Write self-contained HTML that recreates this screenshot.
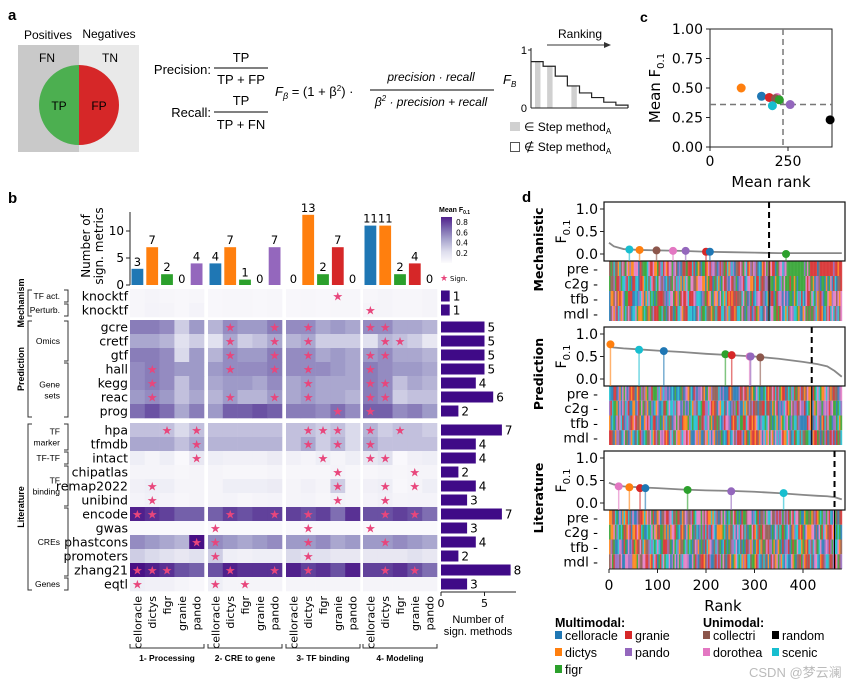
<!DOCTYPE html>
<html><head><meta charset="utf-8">
<style>
html,body{margin:0;padding:0;background:#fff;}
svg{display:block;font-family:"Liberation Sans","DejaVu Sans",sans-serif;}
.dv{font-family:"DejaVu Sans","Liberation Sans",sans-serif;}
</style></head>
<body>
<svg id="fig" width="866" height="686" viewBox="0 0 866 686" xmlns="http://www.w3.org/2000/svg">
<!-- Panel a -->
<g>
<text x="8" y="20" font-size="15" font-weight="bold">a</text>
<text x="48" y="39" font-size="12" text-anchor="middle">Positives</text>
<text x="109" y="38" font-size="12" text-anchor="middle">Negatives</text>
<rect x="18" y="45" width="61" height="107" fill="#c9c9c9"/>
<rect x="79" y="45" width="60" height="107" fill="#e9e9e9"/>
<text x="47" y="62" font-size="12" text-anchor="middle">FN</text>
<text x="110" y="62" font-size="12" text-anchor="middle">TN</text>
<path d="M79,65 A40,40 0 0,0 79,145 Z" fill="#4caf50"/>
<path d="M79,65 A40,40 0 0,1 79,145 Z" fill="#d62728"/>
<text x="59" y="110" font-size="12" text-anchor="middle">TP</text>
<text x="99" y="110" font-size="12" text-anchor="middle">FP</text>
<text x="211" y="74" font-size="13" text-anchor="end">Precision:</text>
<text x="241" y="62" font-size="13" text-anchor="middle">TP</text>
<line x1="214" y1="68" x2="268" y2="68" stroke="#000"/>
<text x="241" y="84" font-size="13" text-anchor="middle">TP + FP</text>
<text x="211" y="117" font-size="13" text-anchor="end">Recall:</text>
<text x="241" y="105" font-size="13" text-anchor="middle">TP</text>
<line x1="214" y1="112" x2="268" y2="112" stroke="#000"/>
<text x="241" y="129" font-size="13" text-anchor="middle">TP + FN</text>
<text x="275" y="96" font-size="13"><tspan font-style="italic">F</tspan><tspan font-size="9" dy="3" font-style="italic">β</tspan><tspan dy="-3"> = (1 + β</tspan><tspan font-size="8" dy="-5">2</tspan><tspan dy="5">) ·</tspan></text>
<text x="431" y="81" font-size="12" font-style="italic" text-anchor="middle">precision · recall</text>
<line x1="370" y1="90" x2="494" y2="90" stroke="#000"/>
<text x="431" y="106" font-size="12" font-style="italic" text-anchor="middle">β<tspan font-size="8" dy="-5">2</tspan><tspan dy="5"> · precision + recall</tspan></text>
<text x="503" y="84" font-size="13" font-style="italic">F<tspan font-size="8" dy="3">B</tspan></text>
<text x="580" y="38" font-size="12" text-anchor="middle">Ranking</text>
<line x1="547" y1="45" x2="607" y2="45" stroke="#333"/>
<path d="M611,45 L604,42 L604,48 Z" fill="#333"/>
<g id="stepchart"></g>
<rect x="510" y="122" width="10" height="9" fill="#d0d0d0"/>
<text x="524" y="131" font-size="12">∈ Step method<tspan font-size="8" dy="3">A</tspan></text>
<rect x="510.5" y="142.5" width="9" height="9" fill="#fff" stroke="#555"/>
<text x="524" y="151" font-size="12">∉ Step method<tspan font-size="8" dy="3">A</tspan></text>
</g>
<!-- Panel c -->
<g id="panelc" class="dv">
<text x="640" y="22" font-size="14" font-weight="bold" font-family="Liberation Sans">c</text>
</g>
<!-- Panel b -->
<g id="panelb">
<text x="8" y="203" font-size="15" font-weight="bold">b</text>
</g>
<!-- Panel d -->
<g id="paneld" class="dv">
<text x="522" y="202" font-size="15" font-weight="bold" font-family="Liberation Sans">d</text>
</g>
<g id="legend"></g>
<text x="749" y="677" font-size="13" fill="#bbb" font-family="Liberation Sans, Noto Sans CJK SC, sans-serif">CSDN @梦云澜</text>
</svg>
<script>
// ---------- data ----------
const methods = ["celloracle","dictys","figr","granie","pando","collectri","dorothea","random","scenic"];
const methodColors = {celloracle:"#1f77b4",dictys:"#ff7f0e",figr:"#2ca02c",granie:"#d62728",pando:"#9467bd",collectri:"#8c564b",dorothea:"#e377c2",random:"#000000",scenic:"#17becf"};
// panel a step chart
const stepValues = [0.8,0.72,0.55,0.38,0.26,0.18,0.1,0.05];
const stepShaded = [0,1,3];
// panel c
const cMethods = ["dictys","celloracle","granie","dorothea","collectri","figr","scenic","pando","random"];
const cRank = [100,165,190,215,210,222,200,257,385];
const cF = [0.50,0.43,0.42,0.42,0.41,0.40,0.35,0.36,0.23];
const cRefRank = 234, cRefF = 0.36;
const cYTicks = [0,0.25,0.5,0.75,1.0];
const cYLabels = ["0.00","0.25","0.50","0.75","1.00"];
const cXTicks = [0,250];
// panel b
const stepNames = ["1- Processing","2- CRE to gene","3- TF binding","4- Modeling"];
const colMethods = ["celloracle","dictys","figr","granie","pando"];
const topCounts = [3,7,2,0,4, 4,7,1,0,7, 0,13,2,7,0, 11,11,2,4,0];
const rowNames = ["knocktf","knocktf","gcre","cretf","gtf","hall","kegg","reac","prog","hpa","tfmdb","intact","chipatlas","remap2022","unibind","encode","gwas","phastcons","promoters","zhang21","eqtl"];
const rowCounts = [1,1,5,5,5,5,4,6,2,7,4,4,2,4,3,7,3,4,2,8,3];
const heat = [
[.04,.05,.04,.03,.04, .03,.04,.04,.03,.04, .03,.04,.03,.04,.04, .04,.05,.04,.04,.05],
[.04,.06,.05,.03,.06, .03,.04,.04,.03,.04, .03,.04,.03,.04,.04, .05,.05,.04,.04,.05],
[.6,.6,.55,.3,.5, .4,.55,.5,.5,.6, .55,.55,.45,.5,.45, .55,.55,.45,.45,.4],
[.45,.45,.4,.2,.3, .2,.45,.3,.35,.45, .4,.45,.3,.3,.3, .2,.4,.35,.3,.15],
[.6,.6,.55,.25,.5, .4,.55,.5,.5,.6, .55,.55,.45,.5,.45, .5,.55,.45,.45,.4],
[.55,.6,.55,.5,.5, .5,.55,.55,.55,.6, .55,.55,.55,.5,.45, .6,.55,.5,.5,.45],
[.55,.6,.55,.35,.5, .45,.5,.5,.45,.55, .45,.5,.45,.45,.45, .6,.55,.35,.45,.4],
[.5,.55,.5,.35,.45, .4,.5,.4,.4,.5, .45,.5,.45,.45,.4, .6,.55,.3,.35,.35],
[.65,.75,.65,.45,.6, .5,.7,.7,.75,.7, .6,.6,.55,.65,.55, .7,.7,.55,.6,.5],
[.35,.35,.35,.25,.35, .35,.35,.35,.35,.35, .35,.35,.3,.35,.25, .4,.3,.35,.35,.3],
[.45,.45,.45,.35,.45, .4,.4,.4,.4,.4, .35,.45,.3,.4,.25, .45,.35,.35,.35,.35],
[.1,.05,.1,.02,.15, .1,.08,.08,.08,.12, .08,.05,.1,.05,.1, .15,.2,.02,.08,.1],
[.05,.05,.05,.04,.05, .05,.04,.04,.04,.05, .04,.04,.04,.06,.04, .04,.05,.04,.05,.05],
[.08,.1,.1,.05,.05, .05,.1,.1,.1,.12, .05,.08,.05,.3,.05, .08,.1,.03,.05,.1],
[.06,.08,.06,.04,.05, .05,.06,.04,.05,.06, .05,.06,.04,.07,.05, .06,.08,.05,.06,.06],
[.9,.85,.8,.7,.7, .7,.8,.75,.8,.8, .8,.75,.8,.65,.85, .75,.75,.8,.75,.65],
[.02,.02,.02,.02,.02, .02,.02,.02,.02,.02, .02,.02,.02,.02,.02, .02,.02,.02,.02,.02],
[.55,.5,.45,.4,.95, .55,.5,.45,.5,.55, .5,.5,.55,.45,.5, .5,.5,.55,.5,.45],
[.3,.25,.2,.15,.2, .3,.1,.08,.1,.1, .25,.2,.2,.15,.15, .15,.15,.15,.2,.15],
[.95,.9,.85,.75,.7, .75,.9,.85,.85,.85, .9,.8,.85,.75,.9, .8,.8,.85,.75,.65],
[.1,.08,.08,.05,.03, .1,.05,.05,.05,.05, .05,.05,.05,.05,.05, .05,.05,.05,.05,.05]];
const stars = [[13],[15],[6,9,11,15,16],[6,9,11,16,17],[6,9,11,15,16],[1,6,9,11,15],[1,11,15,16],[1,6,9,11,15,16],[13,15],
[2,4,11,12,13,15,17],[4,11,13,15],[4,12,15,16],[13,18],[1,13,16,18],[1,13,16],[0,1,6,9,11,16,18],[5,11,15],[4,5,11,16],[5,11],[0,1,2,6,9,11,16,18],[0,5,7]];
// panel d
const dPanels = ["Mechanistic","Prediction","Literature"];
const curveRanks = [0,10,30,60,100,150,200,250,300,350,400,430,450,465,480];
const curveMech = [0.25,0.17,0.11,0.09,0.08,0.07,0.05,0.04,0.03,0.02,0.02,0.02,0.02,0.02,0.02];
const curvePred = [0.72,0.70,0.68,0.66,0.63,0.6,0.56,0.53,0.5,0.45,0.38,0.33,0.28,0.18,0.05];
const curveLit = [0.45,0.41,0.37,0.35,0.33,0.3,0.28,0.27,0.25,0.22,0.18,0.16,0.15,0.13,0.08];
const lolMechM = ["scenic","dictys","collectri","dorothea","pando","granie","celloracle","figr"];
const lolMechR = [42,63,98,132,158,200,208,365];
const lolMechV = [0.1,0.09,0.08,0.07,0.07,0.05,0.05,0.0];
const lolPredM = ["dictys","scenic","celloracle","figr","granie","dorothea","pando","collectri"];
const lolPredR = [3,62,113,240,253,290,292,312];
const lolPredV = [0.77,0.65,0.62,0.55,0.53,0.50,0.50,0.48];
const lolLitM = ["dorothea","dictys","granie","celloracle","figr","pando","scenic"];
const lolLitR = [20,42,64,75,162,252,360];
const lolLitV = [0.37,0.35,0.33,0.33,0.29,0.26,0.22];
const cutoffs = [330,418,465];
const rankTicks = [0,100,200,300,400];
const stripRows = ["pre","c2g","tfb","mdl"];

// ---------- helpers ----------
const NS="http://www.w3.org/2000/svg";
function mk(parent,tag,attrs,text){const e=document.createElementNS(NS,tag);for(const k in attrs)e.setAttribute(k,attrs[k]);if(text!==undefined)e.textContent=text;parent.appendChild(e);return e;}
function purples(v){const stops=[[0,[252,251,253]],[0.25,[218,218,235]],[0.5,[158,154,200]],[0.75,[106,81,163]],[1,[63,0,125]]];
 v=Math.max(0,Math.min(1,v));for(let i=1;i<stops.length;i++){if(v<=stops[i][0]){const a=stops[i-1],b=stops[i],t=(v-a[0])/(b[0]-a[0]);return "rgb("+a[1].map((c,j)=>Math.round(c+(b[1][j]-c)*t)).join(",")+")";}}return "rgb(63,0,125)";}

// ---------- panel a step chart ----------
(function(){
 const g=document.getElementById('stepchart');
 const x0=531,x1=628,yS=v=>108-v*58;const w=(x1-x0)/stepValues.length;
 stepShaded.forEach(i=>{const r=mk(g,'rect',{x:x0+i*w+4,y:yS(stepValues[i]),width:w*0.45,height:108-yS(stepValues[i]),fill:'#d0d0d0'});
 });
 let d="M"+x0+","+yS(stepValues[0]);
 stepValues.forEach((v,i)=>{d+=" L"+(x0+i*w)+","+yS(v)+" L"+(x0+(i+1)*w)+","+yS(v);});
 d+=" L"+x1+",108";
 const p=mk(g,'path',{d:d,fill:'none',stroke:'#222','stroke-width':1.2});
 
 mk(g,'line',{x1:x0,y1:48,x2:x0,y2:108,stroke:'#222'});
 mk(g,'line',{x1:x0,y1:108,x2:x1,y2:108,stroke:'#222'});
 mk(g,'line',{x1:x0-3,y1:50,x2:x0,y2:50,stroke:'#222'});
 mk(g,'text',{x:x0-4,y:54,'font-size':11,'text-anchor':'end'},'1');
 mk(g,'text',{x:x0-4,y:112,'font-size':11,'text-anchor':'end'},'0');
})();

// ---------- panel c ----------
(function(){
 const g=document.getElementById('panelc');
 const X=r=>710+r*0.312, Y=v=>147-v*118;
 const ax=mk(g,'rect',{x:710,y:29,width:122,height:118,fill:'none',stroke:'#222','stroke-width':1});
 
 cYTicks.forEach((t,i)=>{mk(g,'line',{x1:706,y1:Y(t),x2:710,y2:Y(t),stroke:'#222'});
  const l=mk(g,'text',{x:703,y:Y(t)+5,'font-size':14,'text-anchor':'end'},cYLabels[i]);
  });
 cXTicks.forEach(t=>{mk(g,'line',{x1:X(t),y1:147,x2:X(t),y2:151,stroke:'#222'});
  const l=mk(g,'text',{x:X(t),y:166,'font-size':14,'text-anchor':'middle'},String(t));
  });
 mk(g,'line',{x1:X(cRefRank),y1:29,x2:X(cRefRank),y2:147,stroke:'#777','stroke-width':1.5,'stroke-dasharray':'6,4'});
 mk(g,'line',{x1:710,y1:Y(cRefF),x2:832,y2:Y(cRefF),stroke:'#777','stroke-width':1.5,'stroke-dasharray':'6,4'});
 cMethods.forEach((m,i)=>{const c=mk(g,'circle',{cx:X(cRank[i]),cy:Y(cF[i]),r:4.5,fill:methodColors[m]});
  });
 const yl=mk(g,'text',{x:0,y:0,'font-size':15,'text-anchor':'middle',transform:'translate(660,88) rotate(-90)'});
 yl.innerHTML='Mean F<tspan font-size="10" dy="4">0.1</tspan>';
 
 const xl=mk(g,'text',{x:771,y:187,'font-size':15,'text-anchor':'middle'},'Mean rank');
 
})();

// ---------- panel b ----------
(function(){
 const g=document.getElementById('panelb');
 const gStart=[130,208,286,363], cw=14.8, rh=14;
 const colX=c=>gStart[Math.floor(c/5)]+(c%5)*cw;
 const rowY=r=>r<2?289+r*rh:(r<9?320+(r-2)*rh:423+(r-9)*rh);
 const yT=v=>285-v*5.4;
 mk(g,'line',{x1:130,y1:212,x2:130,y2:285,stroke:'#222'});
 [0,5,10].forEach(t=>{mk(g,'line',{x1:126,y1:yT(t),x2:130,y2:yT(t),stroke:'#222'});
  mk(g,'text',{x:124,y:yT(t)+4,'font-size':12,'text-anchor':'end',class:'dv'},String(t));});
 const yl=mk(g,'text',{x:0,y:0,'font-size':12,'text-anchor':'middle',class:'dv',transform:'translate(96,246) rotate(-90)'});
 yl.innerHTML='<tspan x="0" dy="-6">Number of</tspan><tspan x="0" dy="13">sign. metrics</tspan>';
 
 topCounts.forEach((v,c)=>{const m=colMethods[c%5];
  if(v>0){const b=mk(g,'rect',{x:colX(c)+1.5,y:yT(v),width:cw-3,height:285-yT(v),fill:methodColors[m]});
   }
  mk(g,'text',{x:colX(c)+cw/2,y:(v>0?yT(v)-3:283),'font-size':11.5,'text-anchor':'middle',class:'dv'},String(v));});
 heat.forEach((row,r)=>row.forEach((v,c)=>{const cell=mk(g,'rect',{x:colX(c),y:rowY(r),width:cw+0.3,height:rh+0.3,fill:purples(v)});
  }));
 stars.forEach((cs,r)=>cs.forEach(c=>{const s=mk(g,'text',{x:colX(c)+cw/2,y:rowY(r)+rh/2+4.5,'font-size':12,'text-anchor':'middle',fill:'#e8467c',class:'dv'},'★');
  }));
 rowNames.forEach((n,r)=>{const t=mk(g,'text',{x:128,y:rowY(r)+rh/2+4.5,'font-size':12.5,'text-anchor':'end',class:'dv'},n);
  });
 const xR=v=>441+v*8.7;
 rowCounts.forEach((v,r)=>{const b=mk(g,'rect',{x:441,y:rowY(r)+1.5,width:xR(v)-441,height:rh-3,fill:'#3f0a87'});
  
  mk(g,'text',{x:xR(v)+3,y:rowY(r)+rh/2+4.5,'font-size':12,class:'dv'},String(v));});
 mk(g,'line',{x1:441,y1:592,x2:516,y2:592,stroke:'#222'});
 [0,5].forEach(t=>{mk(g,'line',{x1:xR(t),y1:592,x2:xR(t),y2:596,stroke:'#222'});
  mk(g,'text',{x:xR(t),y:607,'font-size':11,'text-anchor':'middle',class:'dv'},String(t));});
 const rl=mk(g,'text',{x:478,y:623,'font-size':11,'text-anchor':'middle'});
 rl.innerHTML='<tspan x="478">Number of</tspan><tspan x="478" dy="12">sign. methods</tspan>';
 
 for(let c=0;c<20;c++){const t=mk(g,'text',{x:0,y:0,'font-size':11,'text-anchor':'end',class:'dv',transform:'translate('+(colX(c)+cw/2+4)+',596) rotate(-90)'},colMethods[c%5]);
  }
 stepNames.forEach((s,i)=>{const x0=gStart[i],x1=gStart[i]+5*cw;
  mk(g,'path',{d:'M'+x0+',644 L'+x0+',648 L'+x1+',648 L'+x1+',644',fill:'none',stroke:'#333'});
  const t=mk(g,'text',{x:(x0+x1)/2,y:661,'font-size':8.5,'font-weight':'bold','text-anchor':'middle'},s);
  });
 const defs=mk(g,'defs',{});const lg=mk(defs,'linearGradient',{id:'cb',x1:0,y1:1,x2:0,y2:0});
 [0,0.25,0.5,0.75,1].forEach(o=>mk(lg,'stop',{offset:o,'stop-color':purples(o*0.9)}));
 const cb=mk(g,'rect',{x:441,y:217,width:11,height:46,fill:'url(#cb)'});
 
 [0.8,0.6,0.4,0.2].forEach(v=>{const y=263-v/0.9*46;mk(g,'text',{x:456,y:y+3,'font-size':7.5,class:'dv'},String(v));});
 const ct=mk(g,'text',{x:439,y:212,'font-size':7,'font-weight':'bold'});ct.innerHTML='Mean F<tspan font-size="5" dy="2">0.1</tspan>';
 mk(g,'text',{x:440,y:281,'font-size':9,fill:'#e8467c'},'★');
 mk(g,'text',{x:450,y:281,'font-size':7,class:'dv'},'Sign.');
 const grp=[["Mechanism",289,317],["Prediction",320,418],["Literature",423,591]];
 grp.forEach(([n,a,b])=>{mk(g,'path',{d:'M32,'+(a+1)+' L28,'+(a+1)+' L28,'+(b-1)+' L32,'+(b-1),fill:'none',stroke:'#333'});
  const t=mk(g,'text',{x:0,y:0,'font-size':9,'font-weight':'bold','text-anchor':'middle',transform:'translate(24,'+((a+b)/2)+') rotate(-90)'},n);
  });
 const cats=[["TF act.",0,1],["Perturb.",1,2],["Omics",2,5],["Gene|sets",5,9],["TF|marker",9,11],["TF-TF",11,12],["TF|binding",12,15],["CREs",15,20],["Genes",20,21]];
 cats.forEach(([n,a,b])=>{const y0=rowY(a)+1,y1=rowY(b-1)+rh-1;
  mk(g,'path',{d:'M64,'+y0+' L68,'+y0+' L68,'+y1+' L64,'+y1,fill:'none',stroke:'#333'});
  const parts=n.split('|');const yc=(y0+y1)/2;
  parts.forEach((p,i)=>{const t=mk(g,'text',{x:60,y:yc+3+(i-(parts.length-1)/2)*11,'font-size':8.5,'text-anchor':'end'},p);
   });});
})();

// ---------- panel d ----------
(function(){
 const g=document.getElementById('paneld');
 const X=r=>609+r*0.485;
 const boxes=[[202,261,321],[327,386,445],[451,510,569]];
 const curves=[curveMech,curvePred,curveLit];
 const lols=[[lolMechM,lolMechR,lolMechV],[lolPredM,lolPredR,lolPredV],[lolLitM,lolLitR,lolLitV]];
 const pal=["#1f77b4","#ff7f0e","#2ca02c","#d62728","#9467bd","#8c564b","#e377c2","#17becf","#bcbd22","#7f7f7f"];
 let seed=12345;const rnd=()=>{seed=(seed*1103515245+12345)%2147483648;return seed/2147483648;};
 boxes.forEach(([top,bot,sBot],p)=>{
  const Y=v=>bot-7-v*(bot-top-14);
  const sx0=X(0),sx1=X(480),n=160,sw=(sx1-sx0)/n,rhh=(sBot-bot)/4;
  for(let r=0;r<4;r++){for(let i=0;i<n;i++){
   let col=pal[Math.floor(rnd()*8)];
   if(p===0&&r===0&&i>122&&i<138&&rnd()<0.7)col="#2ca02c";
   if(p===0&&r===0&&i>=138&&rnd()<0.7)col="#d62728";
   if(p===0&&r===1&&i>113&&i<135&&rnd()<0.8)col="#2ca02c";
   mk(g,'rect',{x:sx0+i*sw,y:bot+r*rhh,width:sw+0.4,height:rhh,fill:col,opacity:0.85});}
   mk(g,'text',{x:598,y:bot+r*rhh+rhh/2+5,'font-size':13.5,'text-anchor':'end'},stripRows[r]+' -');}
  mk(g,'line',{x1:X(cutoffs[p]),y1:bot,x2:X(cutoffs[p]),y2:sBot,stroke:'#000','stroke-width':1});
  const bx=mk(g,'rect',{x:604,y:top,width:241,height:bot-top,fill:'#fff',stroke:'#111','stroke-width':1.2});
  
  [0,0.5,1].forEach(t=>{mk(g,'line',{x1:600,y1:Y(t),x2:604,y2:Y(t),stroke:'#222'});
   mk(g,'text',{x:598,y:Y(t)+5,'font-size':14,'text-anchor':'end'},t.toFixed(1));});
  const cv=curves[p];
  const ln=mk(g,'polyline',{points:curveRanks.map((r,i)=>X(r)+','+Y(cv[i])).join(' '),fill:'none',stroke:'#888','stroke-width':1.8});
  
  const [lm,lr,lv]=lols[p];
  lm.forEach((m,i)=>{mk(g,'line',{x1:X(lr[i]),y1:Y(lv[i]),x2:X(lr[i]),y2:bot,stroke:methodColors[m],'stroke-width':1.5,opacity:0.6});
   const c=mk(g,'circle',{cx:X(lr[i]),cy:Y(lv[i]),r:4,fill:methodColors[m]});
   });
  mk(g,'line',{x1:X(cutoffs[p]),y1:top,x2:X(cutoffs[p]),y2:bot,stroke:'#000','stroke-width':2,'stroke-dasharray':'6,4'});
  const fl=mk(g,'text',{x:0,y:0,'font-size':14,'text-anchor':'middle',transform:'translate(566,'+((top+bot)/2)+') rotate(-90)'});
  fl.innerHTML='F<tspan font-size="10" dy="4">0.1</tspan>';
  const pl=mk(g,'text',{x:0,y:0,'font-size':12.5,'font-weight':'bold','text-anchor':'middle',transform:'translate(543,'+((top+sBot)/2-12)+') rotate(-90)'},dPanels[p]);
  
 });
 rankTicks.forEach(t=>{mk(g,'line',{x1:X(t),y1:569,x2:X(t),y2:573,stroke:'#222'});
  const l=mk(g,'text',{x:X(t),y:590,'font-size':14,'text-anchor':'middle'},String(t));
  });
 mk(g,'line',{x1:X(0),y1:569,x2:X(480),y2:569,stroke:'#222'});
 const rl=mk(g,'text',{x:723,y:611,'font-size':15,'text-anchor':'middle'},'Rank');
 
})();

// ---------- legend ----------
(function(){
 const g=document.getElementById('legend');
 mk(g,'text',{x:555,y:627,'font-size':12.5,'font-weight':'bold'},'Multimodal:');
 mk(g,'text',{x:703,y:627,'font-size':12.5,'font-weight':'bold'},'Unimodal:');
 const items=[["celloracle",555,640],["granie",625,640],["dictys",555,657],["pando",625,657],["figr",555,674],
  ["collectri",703,640],["random",772,640],["dorothea",703,657],["scenic",772,657]];
 items.forEach(([m,x,y])=>{const s=mk(g,'rect',{x:x,y:y-9,width:7,height:8,fill:methodColors[m]});
  
  const t=mk(g,'text',{x:x+10,y:y,'font-size':12.5},m);
  });
})();
</script>
</body></html>
